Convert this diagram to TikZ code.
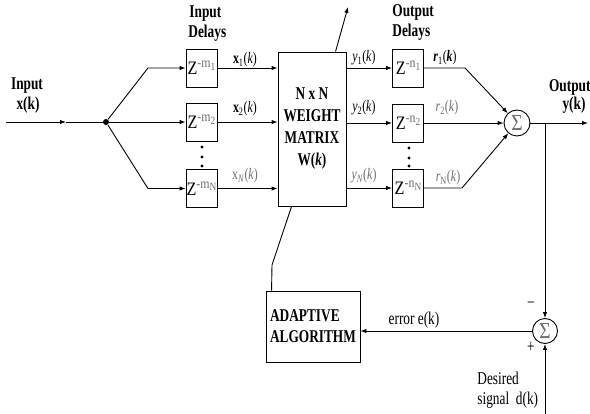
\documentclass[tikz,border=0pt]{standalone}
\usepackage{fontspec}
\setmainfont{Liberation Serif}[FakeStretch=0.74]
\newfontfamily\dfont{Liberation Serif}[FakeStretch=0.85]
\usetikzlibrary{arrows.meta}
\definecolor{lgray}{RGB}{110,110,110}
\newcommand{\zdel}[2]{{\dfont\fontsize{19}{19}\selectfont Z}\raisebox{7pt}{\dfont\fontsize{14}{14}\selectfont\color{lgray}-#1\raisebox{-2.5pt}{\fontsize{11}{11}\selectfont #2}}}
\begin{document}
\begin{tikzpicture}[x=1pt,y=-1pt,line width=0.9pt,
  arr/.style={-{Latex[length=6pt,width=4.5pt]}},
  dbox/.style={draw,minimum width=31pt,minimum height=38pt,inner sep=0pt},
  lbl/.style={font=\fontsize{18}{20}\selectfont\bfseries,inner sep=0pt},
  rlbl/.style={font=\fontsize{18}{20}\selectfont,inner sep=0pt},
  sig/.style={font=\fontsize{16}{18}\selectfont,inner sep=0pt,anchor=base},
  sumc/.style={draw,circle,minimum size=26pt,inner sep=0pt,text=lgray,font=\dfont\fontsize{23}{23}\selectfont}]
\useasboundingbox (0,0) rectangle (590,414);
% input side
\coordinate (inp) at (6,122);
\coordinate (midA) at (66,122);
\node[fill,circle,inner sep=0pt,minimum size=6pt] (dot) at (106,122) {};
\coordinate (b1) at (148,68);
\coordinate (bN) at (148,188.5);
\node[dbox] (ib1) at (201.5,68) {\zdel{m}{1}};
\node[dbox] (ib2) at (201.5,122) {\zdel{m}{2}};
\node[dbox] (ibN) at (201.5,188.5) {\zdel{m}{N}};
\foreach \yy in {147,157,166} \fill (202,\yy) circle (1.7pt);
% adaptive box and control line
\node[draw,minimum width=94pt,minimum height=71pt,align=left,font=\fontsize{18}{21}\selectfont\bfseries] (adapt) at (313,326.5) {ADAPTIVE\\ALGORITHM};
\node[draw,fill=white,minimum width=68pt,minimum height=154pt,align=center,font=\fontsize{18}{22}\selectfont\bfseries] (mat) at (312,129) {N x N\\WEIGHT\\MATRIX\\W(\textit{k})};
\coordinate (aTop) at ([xshift=6pt]adapt.north west);
\coordinate (kink) at (272,265);
\coordinate (mBot) at ([xshift=14pt]mat.south west);
\coordinate (mTop) at ([xshift=58pt]mat.north west);
\coordinate (tip) at (348,7);
\draw (aTop) -- (kink) -- (mBot);
\draw[arr] (mTop) -- (tip);
% output delays
\node[dbox] (ob1) at (408,68) {\zdel{n}{1}};
\node[dbox] (ob2) at (408,123) {\zdel{n}{2}};
\node[dbox] (obN) at (408,188) {\zdel{n}{N}};
\foreach \yy in {148,158,166} \fill (409,\yy) circle (1.7pt);
\node[sumc] (s1) at (517,123) {Σ};
\node[sumc,minimum size=25pt] (s2) at (545,331) {Σ};
\coordinate (c1) at (465,68);
\coordinate (cN) at (462,188);
\coordinate (outE) at (588,123);
\coordinate (br) at (545,123);
\coordinate (dIn) at (545,414);
% connectors
\draw[arr] (inp) -- (midA);
\draw (midA) -- (dot);
\draw[arr] (dot) -- (b1) -- (ib1.west);
\draw[arr] (dot) -- (ib2.west);
\draw[arr] (dot) -- (bN) -- (ibN.west);
\draw[arr] (ib1.east) -- (ib1.east -| mat.west);
\draw[arr] (ib2.east) -- (ib2.east -| mat.west);
\draw[arr] (ibN.east) -- (ibN.east -| mat.west);
\draw[arr] (ob1.west -| mat.east) -- (ob1.west);
\draw[arr] (ob2.west -| mat.east) -- (ob2.west);
\draw[arr] (obN.west -| mat.east) -- (obN.west);
\draw[arr] (ob1.east) -- (c1) -- (s1);
\draw[arr] (ob2.east) -- (s1.west);
\draw[arr] (obN.east) -- (cN) -- (s1);
\draw[arr] (s1.east) -- (outE);
\draw[arr] (br) -- (s2.north);
\draw[arr] (s2.west) -- (s2.west -| adapt.east);
\draw[arr] (dIn) -- (s2.south);
% labels
\node[lbl,anchor=base] (lin1) at (27,90) {Input};
\node[lbl,anchor=base] (lin2) at (28,110) {x(k)};
\node[lbl,anchor=base west] (lid1) at (189,18) {Input};
\node[lbl,anchor=base west] (lid2) at (188,38) {Delays};
\node[lbl,anchor=base west] (lod1) at (392,17) {Output};
\node[lbl,anchor=base west] (lod2) at (392,37) {Delays};
\node[lbl,anchor=base east] (lo1) at (591,92) {Output};
\node[lbl,anchor=base] (lo2) at (574,110) {y(k)};
\node[sig] (x1) at (245,64) {\textbf{x}\textsubscript{1}(\textit{k})};
\node[sig] (x2) at (245,113) {\textbf{x}\textsubscript{2}(\textit{k})};
\node[sig,text=lgray] (xN) at (245,180) {x\textsubscript{\textit{N}}(\textit{k})};
\node[sig] (y1) at (364,62) {\textit{y}\textsubscript{1}(\textit{k})};
\node[sig] (y2) at (364,112) {\textit{y}\textsubscript{2}(\textit{k})};
\node[sig,text=lgray] (yN) at (364,180) {\textit{y}\textsubscript{\textit{N}}(\textit{k})};
\node[sig] (r1) at (445,62) {\textbf{\textit{r}}\textsubscript{1}(\textbf{\textit{k}})};
\node[sig,text=lgray] (r2) at (447,112) {\textit{r}\textsubscript{2}(\textit{k})};
\node[sig,text=lgray] (rN) at (448,182) {\textit{r}\textsubscript{N}(\textit{k})};
\node[rlbl,anchor=base] (err) at (414,325) {error e(k)};
\node[rlbl,anchor=base] (mi) at (531,309) {\textminus};
\node[rlbl,anchor=base] (pl) at (531,353) {+};
\node[rlbl,anchor=base west] (ds1) at (477,385) {Desired};
\node[rlbl,anchor=base west] (ds2) at (477,405) {signal\ \ d(k)};
\end{tikzpicture}
\end{document}
